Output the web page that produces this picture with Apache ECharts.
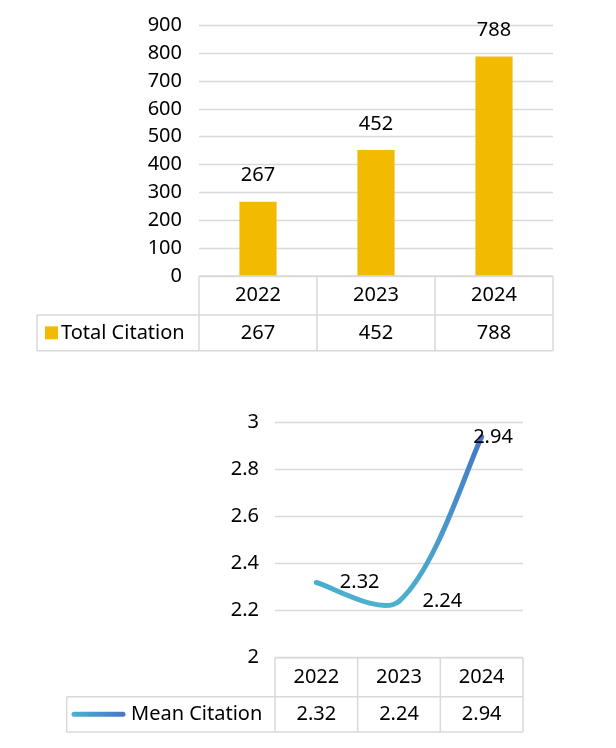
<!DOCTYPE html>
<html>
<head>
<meta charset="utf-8">
<script src="https://cdn.jsdelivr.net/npm/echarts@6/dist/echarts.min.js"></script>
<style>
html,body{margin:0;padding:0;background:#fff;}
#c{width:616px;height:748px;}
</style>
</head>
<body>
<div id="c"></div>
<script>
// ---- data ----
const years = ['2022', '2023', '2024'];
const totalCitation = [267, 452, 788];
const meanCitation = [2.32, 2.24, 2.94];
const totalName = 'Total Citation';
const meanName = 'Mean Citation';

// ---- layout ----
const FONT = 'Noto Sans';
const FS = 20;
const GRID_COLOR = '#D9D9D9';
const BAR_COLOR = '#F2BA00';
const LINE_LIGHT = '#4BB3CE';
const LINE_DARK = '#4675C7';

const G1 = {left: 199, top: 25.3, width: 354, height: 250.7};
const T1 = {left: 37, row1: 39, row2: 35.7};
const G2 = {left: 275, top: 422.7, width: 248, height: 235};
const T2 = {left: 66.7, row1: 39, row2: 35.3};

const chart = echarts.init(document.getElementById('c'), null, {renderer: 'canvas'});

function lineEl(x1, y1, x2, y2) {
  return {type: 'line', silent: true, z: 10,
    shape: {x1: x1, y1: y1, x2: x2, y2: y2},
    style: {stroke: GRID_COLOR, lineWidth: 1.5}};
}
function textEl(t, x, y, align) {
  return {type: 'text', silent: true, z: 11, x: x, y: y,
    style: {text: t, fill: '#000', font: FS + 'px "' + FONT + '"',
      align: align || 'center', verticalAlign: 'middle',
      textAlign: align || 'center', textVerticalAlign: 'middle'}};
}
function buildTable(G, T, cats, vals, name, marker, textX) {
  const els = [];
  const top = G.top + G.height;
  const mid = top + T.row1;
  const bot = mid + T.row2;
  const right = G.left + G.width;
  const n = cats.length;
  const cw = G.width / n;
  els.push(lineEl(G.left, top, right, top));
  els.push(lineEl(T.left, mid, right, mid));
  els.push(lineEl(T.left, bot, right, bot));
  els.push(lineEl(T.left, mid, T.left, bot));
  for (let i = 0; i <= n; i++) {
    const x = G.left + cw * i;
    els.push(lineEl(x, top, x, bot));
  }
  for (let i = 0; i < n; i++) {
    const cx = G.left + cw * (i + 0.5);
    els.push(textEl(cats[i], cx, (top + mid) / 2));
    els.push(textEl(String(vals[i]), cx, (mid + bot) / 2));
  }
  els.push(marker((mid + bot) / 2));
  els.push(textEl(name, textX, (mid + bot) / 2, 'left'));
  return els;
}

const legendGradient = new echarts.graphic.LinearGradient(0, 0, 1, 0, [
  {offset: 0, color: LINE_LIGHT}, {offset: 1, color: LINE_DARK}]);

const graphics = [].concat(
  buildTable(G1, T1, years, totalCitation, totalName, function (cy) {
    return {type: 'rect', silent: true, z: 11,
      shape: {x: 45, y: cy - 6.5, width: 13, height: 13},
      style: {fill: BAR_COLOR}};
  }, 61),
  buildTable(G2, T2, years, meanCitation, meanName, function (cy) {
    return {type: 'line', silent: true, z: 11,
      shape: {x1: 74, y1: cy, x2: 123, y2: cy},
      style: {stroke: legendGradient, lineWidth: 5, lineCap: 'round'}};
  }, 131)
);

const axisLabelStyle = {color: '#000', fontSize: FS, fontFamily: FONT};
const labelOffsets = [[0, 0], [0, 0], [-32, 0]];

// Excel-like smoothed line (length-weighted Catmull-Rom bezier) through the data points
const K = 1 / 6;
function renderSmooth(params, api) {
  const i = params.dataIndex;
  const n = meanCitation.length;
  if (i >= n - 1) return null;
  const P = meanCitation.map(function (v, j) { return api.coord([j, v]); });
  function d(a, b) { return Math.hypot(b[0] - a[0], b[1] - a[1]); }
  function cpOut(j) {
    if (j === 0) return [P[0][0] + (P[1][0] - P[0][0]) * K, P[0][1] + (P[1][1] - P[0][1]) * K];
    const lp = d(P[j - 1], P[j]), ln = d(P[j], P[j + 1]);
    const w = K * 2 * ln / (lp + ln);
    return [P[j][0] + (P[j + 1][0] - P[j - 1][0]) * w, P[j][1] + (P[j + 1][1] - P[j - 1][1]) * w];
  }
  function cpIn(j) {
    if (j === n - 1) return [P[j][0] - (P[j][0] - P[j - 1][0]) * K, P[j][1] - (P[j][1] - P[j - 1][1]) * K];
    const lp = d(P[j - 1], P[j]), ln = d(P[j], P[j + 1]);
    const w = K * 2 * lp / (lp + ln);
    return [P[j][0] - (P[j + 1][0] - P[j - 1][0]) * w, P[j][1] - (P[j + 1][1] - P[j - 1][1]) * w];
  }
  const ys = P.map(function (p) { return p[1]; });
  const yBottom = Math.max.apply(null, ys) + 5;
  const yTop = Math.min.apply(null, ys) - 5;
  const grad = new echarts.graphic.LinearGradient(0, yBottom, 0, yTop, [
    {offset: 0, color: LINE_LIGHT}, {offset: 1, color: LINE_DARK}], true);
  const c1 = cpOut(i), c2 = cpIn(i + 1);
  return {
    type: 'bezierCurve',
    shape: {x1: P[i][0], y1: P[i][1], cpx1: c1[0], cpy1: c1[1],
      cpx2: c2[0], cpy2: c2[1], x2: P[i + 1][0], y2: P[i + 1][1]},
    style: {stroke: grad, lineWidth: 5, fill: null, lineCap: 'round'}
  };
}

chart.setOption({
  animation: false,
  backgroundColor: '#fff',
  textStyle: {fontFamily: FONT},
  grid: [
    Object.assign({containLabel: false}, G1),
    Object.assign({containLabel: false}, G2)
  ],
  xAxis: [
    {type: 'category', gridIndex: 0, data: years, boundaryGap: true,
      axisLine: {show: false}, axisTick: {show: false}, axisLabel: {show: false}},
    {type: 'category', gridIndex: 1, data: years, boundaryGap: true,
      axisLine: {show: false}, axisTick: {show: false}, axisLabel: {show: false}}
  ],
  yAxis: [
    {type: 'value', gridIndex: 0, min: 0, max: 900, interval: 100,
      axisLine: {show: false}, axisTick: {show: false},
      axisLabel: Object.assign({margin: 17}, axisLabelStyle),
      splitLine: {lineStyle: {color: GRID_COLOR, width: 1.3}}},
    {type: 'value', gridIndex: 1, min: 2, max: 3, interval: 0.2,
      axisLine: {show: false}, axisTick: {show: false},
      axisLabel: Object.assign({margin: 16}, axisLabelStyle),
      splitLine: {lineStyle: {color: GRID_COLOR, width: 1.3}}}
  ],
  series: [
    {type: 'bar', name: totalName, xAxisIndex: 0, yAxisIndex: 0,
      data: totalCitation, barWidth: '31.5%',
      itemStyle: {color: BAR_COLOR},
      label: {show: true, position: 'top', distance: 16,
        color: '#000', fontSize: FS, fontFamily: FONT}},
    {type: 'custom', name: meanName, xAxisIndex: 1, yAxisIndex: 1,
      data: meanCitation.map(function (v, i) { return [i, v]; }),
      encode: {x: 0, y: 1},
      renderItem: renderSmooth, z: 3},
    {type: 'line', name: meanName, xAxisIndex: 1, yAxisIndex: 1,
      data: meanCitation.map(function (v, i) {
        return {value: v, label: {offset: labelOffsets[i]}};
      }),
      symbol: 'circle', symbolSize: 1, showSymbol: true,
      itemStyle: {color: 'rgba(0,0,0,0)'},
      lineStyle: {opacity: 0}, z: 4,
      label: {show: true, position: 'right', distance: 23,
        color: '#000', fontSize: FS, fontFamily: FONT}}
  ],
  graphic: graphics
});
</script>
</body>
</html>
